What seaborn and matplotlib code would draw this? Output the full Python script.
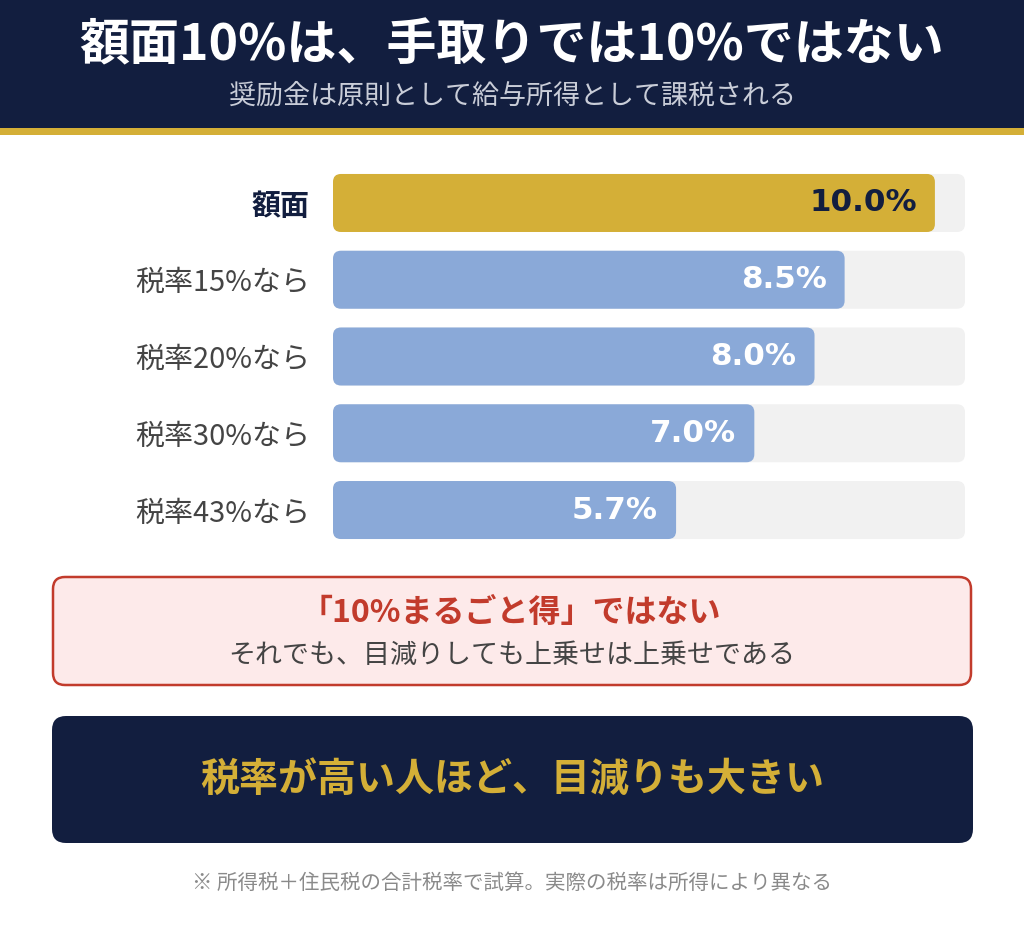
import matplotlib
matplotlib.use("Agg")
import matplotlib.pyplot as plt
import seaborn as sns
import pandas as pd
from matplotlib.patches import FancyBboxPatch, Rectangle

# data
labels = ["額面", "税率15%なら", "税率20%なら", "税率30%なら", "税率43%なら"]
values = [10.0, 8.5, 8.0, 7.0, 5.7]
value_text = ["10.0%", "8.5%", "8.0%", "7.0%", "5.7%"]
track_max = 10.5

title = "額面10%は、手取りでは10%ではない"
subtitle = "奨励金は原則として給与所得として課税される"
note_head = "「10%まるごと得」ではない"
note_body = "それでも、目減りしても上乗せは上乗せである"
banner = "税率が高い人ほど、目減りも大きい"
footnote = "※ 所得税＋住民税の合計税率で試算。実際の税率は所得により異なる"

NAVY = "#121e3f"
GOLD = "#d4af37"
BLUE = "#8aa9d8"
TRACK = "#f1f1f1"
RED = "#c23b2c"

sns.set_theme(style="white")
plt.rcParams["font.family"] = ["Noto Sans CJK JP", "DejaVu Sans"]

W, H = 1024, 940
fig = plt.figure(figsize=(W / 100, H / 100), dpi=100)
fig.patch.set_facecolor("white")

# background / decoration axes in pixel coords
bg = fig.add_axes([0, 0, 1, 1])
bg.set_xlim(0, W)
bg.set_ylim(H, 0)
bg.axis("off")
bg.set_zorder(0)

def px(p):
    return p * 0.72  # px -> pt at dpi 100

bg.add_patch(Rectangle((0, 0), W, 128, color=NAVY, lw=0))
bg.add_patch(Rectangle((0, 128), W, 7, color=GOLD, lw=0))
bg.text(W / 2, 46, title, ha="center", va="center", color="white",
        fontsize=px(50), fontweight="bold")
bg.text(W / 2, 96, subtitle, ha="center", va="center", color="#c9cdd8",
        fontsize=px(27))

bg.add_patch(FancyBboxPatch((53, 577), 918, 108, boxstyle="round,pad=0,rounding_size=12",
                            facecolor="#fdeaea", edgecolor=RED, lw=1.8))
bg.text(W / 2 - 1, 613, note_head, ha="center", va="center", color=RED,
        fontsize=px(32), fontweight="bold")
bg.text(W / 2, 655, note_body, ha="center", va="center", color="#444444",
        fontsize=px(27))

bg.add_patch(FancyBboxPatch((52, 716), 921, 127, boxstyle="round,pad=0,rounding_size=14",
                            facecolor=NAVY, edgecolor="none"))
bg.text(W / 2, 779, banner, ha="center", va="center", color=GOLD,
        fontsize=px(39), fontweight="bold")

bg.text(W / 2, 883, footnote, ha="center", va="center", color="#8a8a8a",
        fontsize=px(20.5))

# bar axes
x0, x1 = 333, 965
y_top, y_bot = 164.6, 548.4
ax = fig.add_axes([x0 / W, 1 - y_bot / H, (x1 - x0) / W, (y_bot - y_top) / H])
ax.set_facecolor("none")
ax.set_zorder(1)

df = pd.DataFrame({"label": labels, "value": values, "track": [track_max] * len(labels)})
colors = {lab: (GOLD if i == 0 else BLUE) for i, lab in enumerate(labels)}
bar_w = 58 / 76.75

sns.barplot(data=df, x="track", y="label", color=TRACK, width=bar_w, ax=ax,
            orient="h", saturation=1)
sns.barplot(data=df, x="value", y="label", hue="label", palette=colors, width=bar_w,
            ax=ax, orient="h", legend=False, saturation=1)

ax.set_xlim(0, track_max)
ax.set_ylim(len(labels) - 0.5, -0.5)

# rounded corners
px_per_x = (x1 - x0) / track_max
px_per_y = (y_bot - y_top) / len(labels)
aspect = px_per_x / px_per_y
r = 8 / px_per_x
for p in list(ax.patches):
    bx, by = p.get_x(), p.get_y()
    bw, bh = p.get_width(), p.get_height()
    fc = p.get_facecolor()
    p.set_visible(False)
    ax.add_patch(FancyBboxPatch((bx, by), bw, bh,
                                boxstyle=f"round,pad=0,rounding_size={r}",
                                mutation_aspect=aspect, facecolor=fc,
                                edgecolor="none", zorder=2))

for i, (v, t) in enumerate(zip(values, value_text)):
    ax.annotate(t, (v, i), xytext=(-18, 0), textcoords="offset pixels",
                ha="right", va="center", fontsize=px(31), fontweight="bold",
                family="DejaVu Sans", color=NAVY if i == 0 else "white", zorder=3)

ax.set_xlabel("")
ax.set_ylabel("")
ax.set_xticks([])
ax.tick_params(axis="y", length=0, pad=px(23))
for i, tl in enumerate(ax.get_yticklabels()):
    tl.set_fontsize(px(29))
    if i == 0:
        tl.set_color(NAVY)
        tl.set_fontweight("bold")
    else:
        tl.set_color("#444444")
sns.despine(ax=ax, left=True, bottom=True)

fig.savefig("out.png", dpi=100, facecolor="white")
